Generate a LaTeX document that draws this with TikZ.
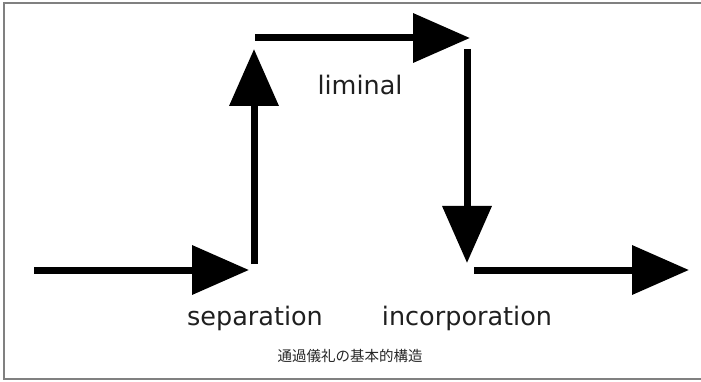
\documentclass[tikz,border=0pt]{standalone}
\usepackage{fontspec}
\setmainfont{DejaVu Sans}
\newfontfamily\cjk{Noto Sans CJK JP}
\usetikzlibrary{arrows.meta}
\tikzset{
  bigarrow/.style={line width=7pt, -{Triangle[length=57pt,width=48pt]}},
  lbl/.style={font=\fontsize{25.5}{30}\selectfont, text=black!88, inner sep=0pt},
  captext/.style={font=\cjk\fontsize{14.5}{17}\selectfont, text=black!85, inner sep=0pt},
  frameline/.style={draw=black!50, line width=1.5pt}
}
\begin{document}
\begin{tikzpicture}[x=1pt,y=-1pt]
\useasboundingbox (0,0) rectangle (701,382);
\clip (0,0) rectangle (701,382);
\draw[frameline] (701,3) -- (4,3) -- (4,379) -- (701,379);
\coordinate (a1s) at (34,270);
\coordinate (a1e) at (249,270);
\coordinate (a2s) at (254,264);
\coordinate (a2e) at (254,49);
\coordinate (a3s) at (255,38);
\coordinate (a3e) at (470,38);
\coordinate (a4s) at (467,49);
\coordinate (a4e) at (467,263);
\coordinate (a5s) at (474,270);
\coordinate (a5e) at (689,270);
\draw[bigarrow] (a1s) -- (a1e);
\draw[bigarrow] (a2s) -- (a2e);
\draw[bigarrow] (a3s) -- (a3e);
\draw[bigarrow] (a4s) -- (a4e);
\draw[bigarrow] (a5s) -- (a5e);
\node[lbl, anchor=base] (lim) at (360,95) {liminal};
\node[lbl, anchor=base] (sep) at (255,325) {separation};
\node[lbl, anchor=base] (inc) at (467,325) {incorporation};
\node[captext] (caption) at (350,356) {通過儀礼の基本的構造};
\end{tikzpicture}
\end{document}
